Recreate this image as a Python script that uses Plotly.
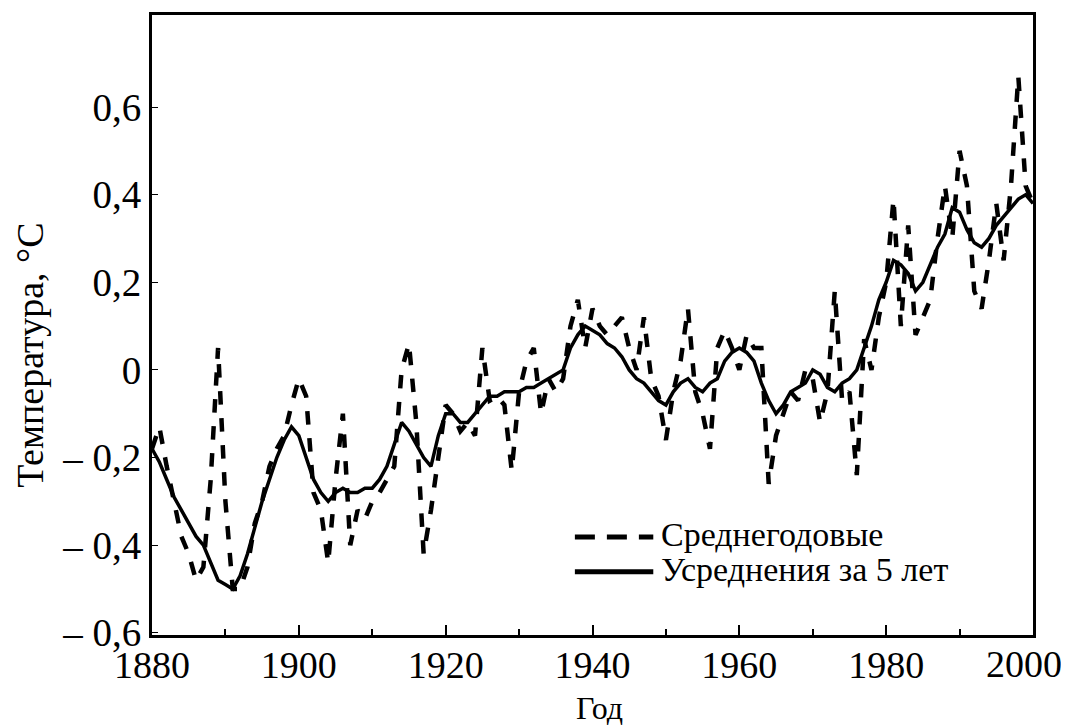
import plotly.graph_objects as go

years = list(range(1880, 2001))
annual = [-0.18, -0.13, -0.22, -0.30, -0.38, -0.42, -0.48, -0.45, -0.25, 0.05,
          -0.30, -0.50, -0.50, -0.45, -0.35, -0.30, -0.22, -0.18, -0.15, -0.08,
          -0.02, -0.06, -0.28, -0.32, -0.44, -0.25, -0.10, -0.40, -0.32, -0.34,
          -0.30, -0.28, -0.25, -0.22, 0.00, 0.06, -0.12, -0.42, -0.32, -0.20,
          -0.08, -0.10, -0.14, -0.12, -0.15, 0.05, -0.07, -0.06, -0.08, -0.23,
          -0.05, 0.02, 0.05, -0.10, -0.02, -0.05, -0.02, 0.10, 0.16, 0.05,
          0.14, 0.10, 0.08, 0.10, 0.12, 0.05, 0.00, 0.12, -0.02, -0.06,
          -0.16, -0.05, 0.02, 0.14, -0.05, -0.10, -0.18, 0.05, 0.09, 0.05,
          0.00, 0.08, 0.05, 0.05, -0.26, -0.15, -0.10, -0.05, -0.07, 0.00,
          -0.02, -0.12, -0.05, 0.18, -0.07, -0.05, -0.24, 0.07, 0.00, 0.12,
          0.20, 0.39, 0.10, 0.33, 0.08, 0.12, 0.16, 0.30, 0.42, 0.30,
          0.50, 0.42, 0.18, 0.14, 0.25, 0.38, 0.25, 0.42, 0.67, 0.42,
          0.38]
smooth = [-0.18, -0.21, -0.25, -0.29, -0.32, -0.35, -0.38, -0.40, -0.44, -0.48,
          -0.49, -0.50, -0.47, -0.42, -0.36, -0.30, -0.25, -0.20, -0.16, -0.13,
          -0.15, -0.20, -0.25, -0.28, -0.30, -0.28, -0.27, -0.28, -0.28, -0.27,
          -0.27, -0.25, -0.22, -0.17, -0.12, -0.14, -0.17, -0.20, -0.22, -0.15,
          -0.10, -0.10, -0.12, -0.12, -0.10, -0.08, -0.06, -0.06, -0.05, -0.05,
          -0.05, -0.04, -0.04, -0.03, -0.02, -0.01, 0.00, 0.05, 0.08, 0.10,
          0.09, 0.08, 0.06, 0.05, 0.03, 0.00, -0.02, -0.03, -0.05, -0.07,
          -0.08, -0.05, -0.03, -0.02, -0.04, -0.05, -0.03, -0.02, 0.02, 0.04,
          0.05, 0.04, 0.02, -0.03, -0.07, -0.10, -0.08, -0.05, -0.04, -0.03,
          0.00, -0.01, -0.04, -0.05, -0.03, -0.02, 0.00, 0.05, 0.10, 0.16,
          0.20, 0.25, 0.24, 0.22, 0.18, 0.20, 0.24, 0.28, 0.31, 0.37,
          0.36, 0.32, 0.29, 0.28, 0.30, 0.33, 0.35, 0.37, 0.39, 0.40,
          0.38]

series_names = ["Среднегодовые", "Усреднения за 5 лет"]
ytick_vals = [-0.6, -0.4, -0.2, 0, 0.2, 0.4, 0.6]
ytick_text = ["– 0,6", "– 0,4", "– 0,2", "0", "0,2", "0,4", "0,6"]
xtick_vals = [1880, 1900, 1920, 1940, 1960, 1980, 2000]
xtick_text = [str(v) for v in xtick_vals]
xminor_vals = [1890, 1910, 1930, 1950, 1970, 1990]

font = "Liberation Serif, Times New Roman, serif"
dash_style = "20px,12px"

fig = go.Figure()
fig.add_trace(go.Scatter(x=years, y=annual, mode="lines", name=series_names[0],
                         showlegend=False,
                         line=dict(color="black", width=4.5, dash="dash")))
fig.add_trace(go.Scatter(x=years, y=smooth, mode="lines", name=series_names[1],
                         showlegend=False,
                         line=dict(color="black", width=3.5)))

# legend drawn as key lines + labels (paper coordinates of the plot area)
legend_rows = [(0.158, dash_style), (0.102, "solid")]
for (ky, dsh), name in zip(legend_rows, series_names):
    fig.add_shape(type="line", xref="paper", yref="paper", x0=0.480, x1=0.569,
                  y0=ky, y1=ky, line=dict(color="black", width=5, dash=dsh))
    fig.add_annotation(xref="paper", yref="paper", x=0.575, y=ky + 0.004,
                       xanchor="left", yanchor="middle", showarrow=False,
                       text=name, font=dict(size=34, family=font, color="black"))

# last x tick label sits slightly inside the right edge (as in the reference)
fig.add_annotation(xref="x", yref="paper", x=xtick_vals[-1], y=0, yanchor="top",
                   xanchor="center", xshift=-9, yshift=-6, showarrow=False,
                   text=xtick_text[-1], font=dict(size=38, family=font, color="black"))

# axis titles
fig.add_annotation(xref="paper", yref="paper", x=-0.1385, y=0.452, textangle=-90,
                   xanchor="center", yanchor="middle", showarrow=False,
                   text="Температура, °C", font=dict(size=38, family=font, color="black"))
fig.add_annotation(xref="paper", yref="paper", x=0.508, y=-0.118,
                   xanchor="center", yanchor="middle", showarrow=False, borderpad=0,
                   text="Год", font=dict(size=32, family=font, color="black"))

# page body has an 8px margin: figure is shifted so the plot area sits where the reference has it
fig.update_layout(
    width=1061, height=719,
    margin=dict(l=144, r=36, t=7, b=92),
    paper_bgcolor="white", plot_bgcolor="white",
    font=dict(family=font, color="black", size=30),
    showlegend=False,
    xaxis=dict(range=[1880, 2000], tickvals=xtick_vals[:-1], ticktext=xtick_text[:-1],
               ticks="inside", ticklen=10,
               tickwidth=2, tickcolor="black", showgrid=False, zeroline=False,
               showline=True, linecolor="black", linewidth=3, mirror=True,
               automargin=False, ticklabelstandoff=-6,
               tickfont=dict(size=38, family=font),
               minor=dict(tickvals=xminor_vals, ticks="inside",
                          ticklen=6, tickwidth=2, tickcolor="black")),
    yaxis=dict(range=[-0.605, 0.81], tickvals=ytick_vals, ticktext=ytick_text,
               ticks="inside", ticklen=6, tickwidth=1, tickcolor="black",
               showgrid=False, zeroline=False, showline=True, linecolor="black",
               linewidth=3, mirror=True, automargin=False,
               tickfont=dict(size=39, family=font)),
)

fig.write_html("out.html")
